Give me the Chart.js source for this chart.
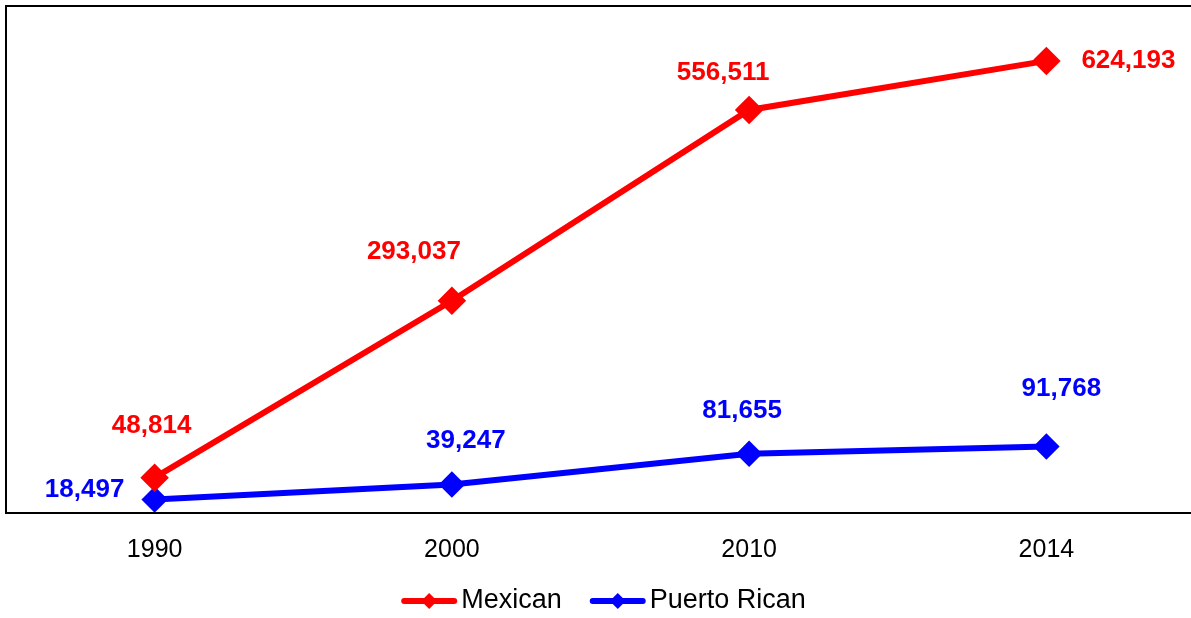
<!DOCTYPE html>
<html>
<head>
<meta charset="utf-8">
<script src="https://cdn.jsdelivr.net/npm/chart.js@4"></script>
<style>
  html, body { margin: 0; padding: 0; background: #fff; overflow: hidden; }
  #wrap { width: 1195px; height: 618px; }
</style>
</head>
<body>
<div id="wrap"><canvas id="c"></canvas></div>
<script>
// data
const years = ['1990', '2000', '2010', '2014'];
const mexican = [48814, 293037, 556511, 624193];
const puertoRican = [18497, 39247, 81655, 91768];

// label offsets from each point (px)
const mexOffsets = [[-3, -52], [-38, -49], [-26, -37], [82, 0]];
const prOffsets = [[-70, -10], [14, -44], [-7, -43], [15, -58]];

const FONT = "'Liberation Sans', Arial, sans-serif";

// border on top, left, bottom of plot area
const frame = {
  id: 'frame',
  afterDatasetsDraw(chart) {
    const { ctx, chartArea: a } = chart;
    ctx.save();
    ctx.strokeStyle = '#000';
    ctx.lineWidth = 2;
    ctx.beginPath();
    ctx.moveTo(chart.width, a.top);
    ctx.lineTo(a.left, a.top);
    ctx.lineTo(a.left, a.bottom);
    ctx.lineTo(chart.width, a.bottom);
    ctx.stroke();
    ctx.restore();
  }
};

// value labels
const valueLabels = {
  id: 'valueLabels',
  afterDatasetsDraw(chart) {
    const ctx = chart.ctx;
    ctx.save();
    ctx.font = 'bold 26px ' + FONT;
    ctx.textAlign = 'center';
    ctx.textBaseline = 'middle';
    chart.data.datasets.forEach((ds, i) => {
      const meta = chart.getDatasetMeta(i);
      ctx.fillStyle = ds.borderColor;
      meta.data.forEach((pt, j) => {
        const off = ds.labelOffsets[j];
        ctx.fillText(ds.data[j].toLocaleString('en-US'), pt.x + off[0], pt.y + off[1]);
      });
    });
    ctx.restore();
  }
};

// legend: line with diamond, then text
const lineLegend = {
  id: 'lineLegend',
  afterDraw(chart) {
    const ctx = chart.ctx;
    ctx.save();
    ctx.font = '27px ' + FONT;
    ctx.textBaseline = 'middle';
    const lineW = 56, gapText = 4, gapItem = 28, y = 601;
    const items = chart.data.datasets.map(ds => ({ ds, w: ctx.measureText(ds.label).width }));
    let total = items.reduce((s, it) => s + lineW + gapText + it.w, 0) + gapItem * (items.length - 1);
    let x = (chart.width - total) / 2 + 6;
    items.forEach(it => {
      ctx.strokeStyle = it.ds.borderColor;
      ctx.lineWidth = 6;
      ctx.lineCap = 'round';
      ctx.beginPath();
      ctx.moveTo(x + 3, y);
      ctx.lineTo(x + lineW - 3, y);
      ctx.stroke();
      ctx.fillStyle = it.ds.borderColor;
      ctx.beginPath();
      const cx = x + lineW / 2, r = 8;
      ctx.moveTo(cx, y - r); ctx.lineTo(cx + r, y); ctx.lineTo(cx, y + r); ctx.lineTo(cx - r, y);
      ctx.closePath();
      ctx.fill();
      ctx.fillStyle = '#000';
      ctx.fillText(it.ds.label, x + lineW + gapText, y);
      x += lineW + gapText + it.w + gapItem;
    });
    ctx.restore();
  }
};

new Chart(document.getElementById('c'), {
  type: 'line',
  data: {
    labels: years,
    datasets: [
      {
        label: 'Mexican',
        data: mexican,
        borderColor: '#FF0000',
        backgroundColor: '#FF0000',
        borderWidth: 6,
        pointStyle: 'rectRot',
        pointRadius: 10,
        pointHoverRadius: 10,
        labelOffsets: mexOffsets
      },
      {
        label: 'Puerto Rican',
        data: puertoRican,
        borderColor: '#0000FF',
        backgroundColor: '#0000FF',
        borderWidth: 6,
        pointStyle: 'rectRot',
        pointRadius: 9,
        pointHoverRadius: 9,
        labelOffsets: prOffsets
      }
    ]
  },
  options: {
    responsive: true,
    maintainAspectRatio: false,
    animation: false,
    events: [],
    layout: { autoPadding: false, padding: { left: 6, top: 6, right: 0, bottom: 0 } },
    plugins: {
      legend: { display: false },
      tooltip: { enabled: false }
    },
    scales: {
      x: {
        offset: true,
        grid: { display: false, drawTicks: false },
        border: { display: false },
        ticks: { color: '#000', font: { family: FONT, size: 25 }, padding: 22 },
        afterFit(s) { s.height = 105; }
      },
      y: {
        display: false,
        min: 0,
        max: 700000
      }
    }
  },
  plugins: [frame, valueLabels, lineLegend]
});
</script>
</body>
</html>
